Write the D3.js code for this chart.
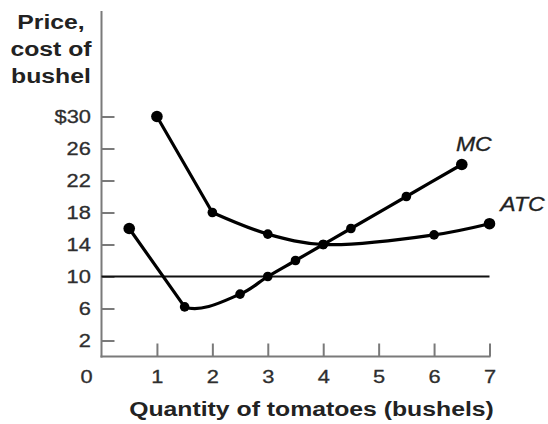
<!DOCTYPE html>
<html>
<head>
<meta charset="utf-8">
<script src="https://cdn.jsdelivr.net/npm/d3@7"></script>
<style>
  html, body { margin: 0; padding: 0; background: #fff; }
  svg { display: block; }
  text { font-family: "Liberation Sans", Arial, Helvetica, sans-serif; }
</style>
</head>
<body>
<svg id="chart" width="548" height="424"></svg>
<script>
// ---- data ----
const xTicks = [1, 2, 3, 4, 5, 6, 7];
const yTicks = [2, 6, 10, 14, 18, 22, 26, 30];
const atcQ = [1, 2, 3, 4, 6, 7];
const atcV = [30, 18, 15.3, 14, 15.2, 16.6];
const mcQ = [0.5, 1.5, 2.5, 3, 3.5, 4, 4.5, 5.5, 6.5];
const mcV = [16, 6.2, 7.8, 10, 12, 14, 16, 20, 24];
const priceLine = 10;
const yTitleLines = ["Price,", "cost of", "bushel"];
const xTitle = "Quantity of tomatoes (bushels)";
const seriesLabels = ["MC", "ATC"];

// ---- layout ----
const sx = 1.18; // horizontal text stretch of the original artwork
const svg = d3.select("#chart");
const x = d3.scaleLinear().domain([0, 7]).range([101.5, 489.5]);
const y = d3.scaleLinear().domain([0, 30]).range([356.5, 116.5]);
const axisColor = "#7a7a7a";
const textColor = "#2e2e2e";

// axes lines
svg.append("line")
  .attr("x1", x(0)).attr("x2", x(0))
  .attr("y1", 11).attr("y2", y(0) + 1)
  .attr("stroke", axisColor).attr("stroke-width", 2);
svg.append("line")
  .attr("x1", x(0) - 1).attr("x2", x(7) + 1)
  .attr("y1", y(0)).attr("y2", y(0))
  .attr("stroke", axisColor).attr("stroke-width", 2);

// y axis ticks
const yAxis = d3.axisLeft(y).tickValues(yTicks)
  .tickSizeInner(-13).tickSizeOuter(0).tickPadding(9)
  .tickFormat(d => d === 30 ? "$30" : String(d));
const gy = svg.append("g").attr("transform", `translate(${x(0)},0)`).call(yAxis);
gy.select(".domain").remove();
gy.selectAll(".tick line").attr("stroke", axisColor).attr("stroke-width", 2);
gy.selectAll(".tick text")
  .attr("font-size", 18.5).attr("fill", textColor)
  .attr("font-family", "Liberation Sans, Arial, sans-serif")
  .attr("stroke", textColor).attr("stroke-width", 0.3)
  .attr("transform", `scale(${sx},1)`);

// x axis ticks
const xAxis = d3.axisBottom(x).tickValues(xTicks)
  .tickSizeInner(-13).tickSizeOuter(0).tickPadding(13)
  .tickFormat(d3.format("d"));
const gx = svg.append("g").attr("transform", `translate(0,${y(0)})`).call(xAxis);
gx.select(".domain").remove();
gx.selectAll(".tick line").attr("stroke", axisColor).attr("stroke-width", 2);
gx.selectAll(".tick text")
  .attr("font-size", 18.5).attr("fill", textColor)
  .attr("font-family", "Liberation Sans, Arial, sans-serif")
  .attr("stroke", textColor).attr("stroke-width", 0.3)
  .attr("transform", `scale(${sx},1)`);

// origin label "0"
svg.append("text")
  .attr("transform", `translate(${x(0) - 15},${y(0) + 26.5}) scale(${sx},1)`)
  .attr("text-anchor", "middle")
  .attr("font-size", 18.5).attr("fill", textColor)
  .attr("stroke", textColor).attr("stroke-width", 0.3)
  .text("0");

// price line at $10
svg.append("line")
  .attr("x1", x(0)).attr("x2", x(7))
  .attr("y1", y(priceLine)).attr("y2", y(priceLine))
  .attr("stroke", "#111").attr("stroke-width", 2);

// curves
const atc = atcQ.map((q, i) => [q, atcV[i]]);
const mc = mcQ.map((q, i) => [q, mcV[i]]);
const straight = d3.line().x(d => x(d[0])).y(d => y(d[1]));
const smooth = d3.line().x(d => x(d[0])).y(d => y(d[1])).curve(d3.curveCatmullRom.alpha(0.5));

// clip so the smooth MC curve only shows from its second point on
svg.append("defs").append("clipPath").attr("id", "mcClip")
  .append("rect")
  .attr("x", x(mcQ[1])).attr("y", 0)
  .attr("width", 548 - x(mcQ[1])).attr("height", 424);

function drawPath(d, clip) {
  const p = svg.append("path")
    .attr("d", d)
    .attr("fill", "none")
    .attr("stroke", "#000")
    .attr("stroke-width", 3.2)
    .attr("stroke-linejoin", "round")
    .attr("stroke-linecap", "round");
  if (clip) p.attr("clip-path", `url(#${clip})`);
}
// ATC: steep straight drop to q=2, then a smooth curve
drawPath(straight(atc.slice(0, 2)));
drawPath(smooth(atc.slice(1)));
// MC: straight drop to q=1.5, then a smooth dip and rise
drawPath(straight(mc.slice(0, 2)));
drawPath(smooth(mc), "mcClip");

[atc, mc].forEach(data => {
  svg.append("g").selectAll("circle")
    .data(data).join("circle")
    .attr("cx", d => x(d[0])).attr("cy", d => y(d[1]))
    .attr("r", (d, i) => (i === 0 || i === data.length - 1) ? 5.8 : 4.8)
    .attr("fill", "#000");
});

// series labels
svg.append("text")
  .attr("transform", `translate(${x(mcQ[mcQ.length - 1]) + 12},151) scale(${sx},1)`)
  .attr("text-anchor", "middle").attr("font-style", "italic")
  .attr("font-size", 19.5).attr("fill", "#222")
  .attr("stroke", "#222").attr("stroke-width", 0.3)
  .text(seriesLabels[0]);
svg.append("text")
  .attr("transform", `translate(${x(atcQ[atcQ.length - 1]) + 33},211) scale(${sx},1)`)
  .attr("text-anchor", "middle").attr("font-style", "italic")
  .attr("font-size", 19.5).attr("fill", "#222")
  .attr("stroke", "#222").attr("stroke-width", 0.3)
  .text(seriesLabels[1]);

// y title
yTitleLines.forEach((t, i) => {
  svg.append("text")
    .attr("transform", `translate(51,${28.5 + i * 27}) scale(${sx},1)`)
    .attr("text-anchor", "middle").attr("font-weight", "bold")
    .attr("font-size", 21).attr("fill", "#222")
    .text(t);
});

// x title
svg.append("text")
  .attr("transform", `translate(311.5,416) scale(${sx},1)`)
  .attr("text-anchor", "middle").attr("font-weight", "bold")
  .attr("font-size", 21).attr("fill", "#222")
  .text(xTitle);
</script>
</body>
</html>
